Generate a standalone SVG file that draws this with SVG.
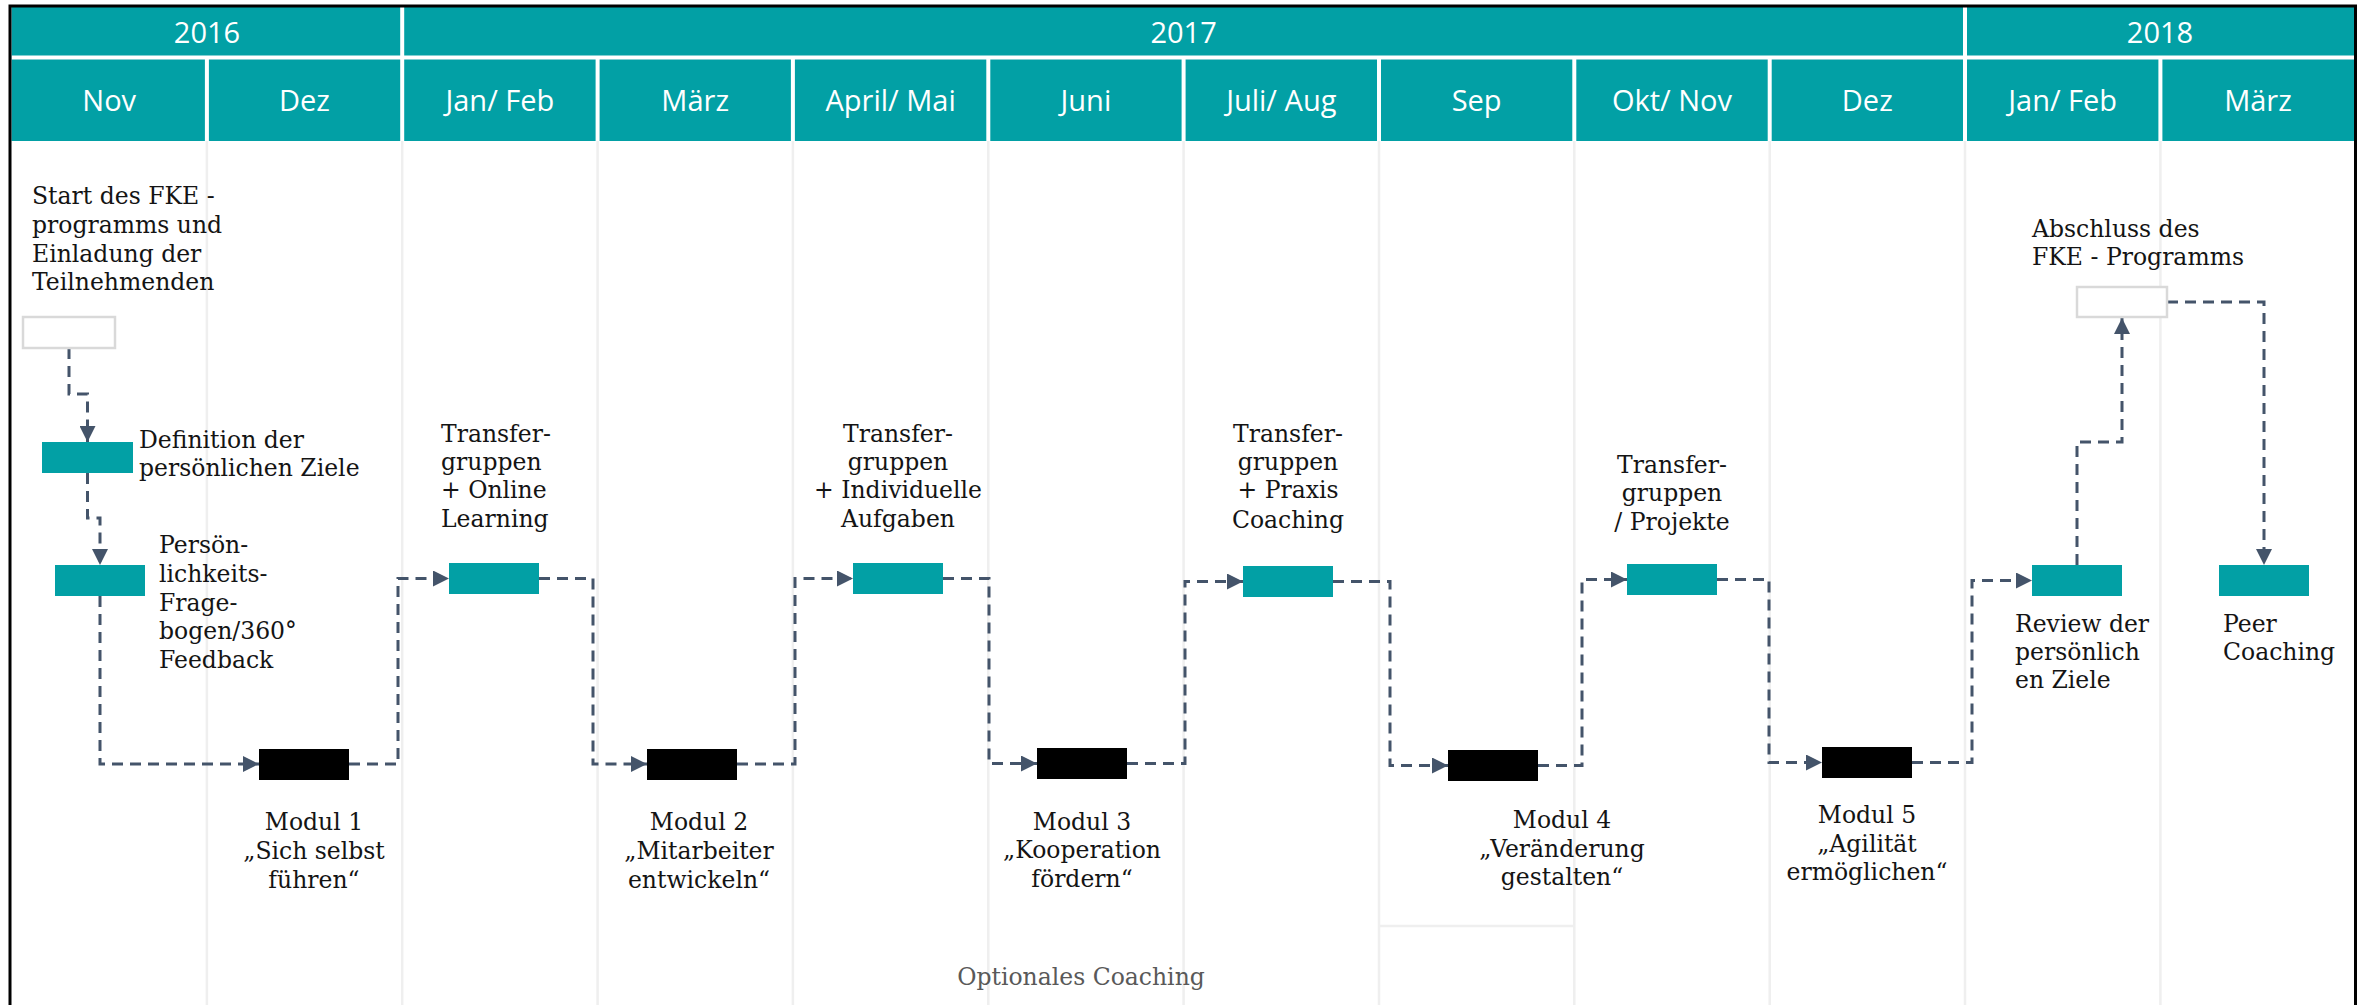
<svg xmlns="http://www.w3.org/2000/svg" width="2362" height="1005" viewBox="0 0 2362 1005">
<style>
.hd{font-family:"Open Sans","Liberation Sans",sans-serif;font-size:29px;fill:#fff;text-anchor:middle}
.lb{font-family:"DejaVu Serif","Liberation Serif",serif;font-size:23.5px;fill:#141414}
.mid{text-anchor:middle}
.teal{fill:#02a0a5}
.blk{fill:#000}
.wbox{fill:#fff;stroke:#d9d9d9;stroke-width:2.5}
.grid{stroke:#efefef;stroke-width:2.5;fill:none}
.hsep{stroke:#fff;stroke-width:4;fill:none}
.con{fill:none;stroke:#44546a;stroke-width:3;stroke-dasharray:11 7;marker-end:url(#ah)}
</style>
<defs>
<marker id="ah" markerUnits="userSpaceOnUse" markerWidth="16" markerHeight="16" refX="16" refY="8" orient="auto">
<path d="M0,0 L16,8 L0,16 z" fill="#44546a"/>
</marker>
</defs>
<rect width="2362" height="1005" fill="#fff"/>

<g id="grid">
<path class="grid" d="M206.9,141V1005M402.2,141V1005M597.6,141V1005M792.9,141V1005M988.3,141V1005M1183.6,141V1005M1379,141V1005M1574.3,141V1005M1769.7,141V1005M1965,141V1005M2160.4,141V1005M1379,926H1574.3"/>
</g>

<g id="header">
<rect x="11.5" y="7" width="2343.5" height="134" fill="#02a0a5"/>
<path class="hsep" d="M11.5,57.5H2355M402.2,7V141M1965,7V141M206.9,57.5V141M597.6,57.5V141M792.9,57.5V141M988.3,57.5V141M1183.6,57.5V141M1379,57.5V141M1574.3,57.5V141M1769.7,57.5V141M2160.4,57.5V141"/>
<text class="hd" x="207" y="43">2016</text>
<text class="hd" x="1183.6" y="43">2017</text>
<text class="hd" x="2160" y="43">2018</text>
<text class="hd" x="109.2" y="111">Nov</text>
<text class="hd" x="304.5" y="111">Dez</text>
<text class="hd" x="499.9" y="111">Jan/ Feb</text>
<text class="hd" x="695.2" y="111">März</text>
<text class="hd" x="890.6" y="111">April/ Mai</text>
<text class="hd" x="1085.9" y="111">Juni</text>
<text class="hd" x="1281.3" y="111">Juli/ Aug</text>
<text class="hd" x="1476.6" y="111">Sep</text>
<text class="hd" x="1672" y="111">Okt/ Nov</text>
<text class="hd" x="1867.3" y="111">Dez</text>
<text class="hd" x="2062.7" y="111">Jan/ Feb</text>
<text class="hd" x="2258" y="111">März</text>
</g>

<rect x="10" y="6" width="2345.5" height="1010" fill="none" stroke="#000" stroke-width="3"/>

<g id="connectors">
<path class="con" d="M69,348V394H87.5V442"/>
<path class="con" d="M87.5,473V518H100V565"/>
<path class="con" d="M100,596V764H259"/>
<path class="con" d="M349,764H398V578.5H449"/>
<path class="con" d="M539,578.5H593V764H647"/>
<path class="con" d="M737,764H795V578.5H853"/>
<path class="con" d="M943,578.5H989V763.5H1037"/>
<path class="con" d="M1127,763.5H1185V581.5H1243"/>
<path class="con" d="M1333,581.5H1390V765.5H1448"/>
<path class="con" d="M1538,765.5H1582V579.5H1627"/>
<path class="con" d="M1717,579.5H1769V762.5H1822"/>
<path class="con" d="M1912,762.5H1972V580.5H2032"/>
<path class="con" d="M2077,565V442H2122V318"/>
<path class="con" d="M2167,302H2264V565"/>
</g>

<g id="start">
<rect class="wbox" x="23" y="317" width="92" height="31"/>
<text class="lb" x="32"><tspan x="32" y="204">Start des FKE -</tspan><tspan x="32" y="233">programms und</tspan><tspan x="32" y="262">Einladung der</tspan><tspan x="32" y="290">Teilnehmenden</tspan></text>
</g>
<g id="definition">
<rect class="teal" x="42" y="442" width="91" height="31"/>
<text class="lb"><tspan x="139" y="448">Definition der</tspan><tspan x="139" y="476">persönlichen Ziele</tspan></text>
</g>
<g id="persoenlichkeit">
<rect class="teal" x="55" y="565" width="90" height="31"/>
<text class="lb"><tspan x="159" y="553">Persön-</tspan><tspan x="159" y="582">lichkeits-</tspan><tspan x="159" y="611">Frage-</tspan><tspan x="159" y="639">bogen/360°</tspan><tspan x="159" y="668">Feedback</tspan></text>
</g>
<g id="transfer1">
<rect class="teal" x="449" y="563" width="90" height="31"/>
<text class="lb"><tspan x="441" y="442">Transfer-</tspan><tspan x="441" y="470">gruppen</tspan><tspan x="441" y="498">+ Online</tspan><tspan x="441" y="527">Learning</tspan></text>
</g>
<g id="modul1">
<rect class="blk" x="259" y="749" width="90" height="31"/>
<text class="lb mid"><tspan x="314" y="830">Modul 1</tspan><tspan x="314" y="859">„Sich selbst</tspan><tspan x="314" y="888">führen“</tspan></text>
</g>
<g id="modul2">
<rect class="blk" x="647" y="749" width="90" height="31"/>
<text class="lb mid"><tspan x="699" y="830">Modul 2</tspan><tspan x="699" y="859">„Mitarbeiter</tspan><tspan x="699" y="888">entwickeln“</tspan></text>
</g>
<g id="transfer2">
<rect class="teal" x="853" y="563" width="90" height="31"/>
<text class="lb mid"><tspan x="898" y="442">Transfer-</tspan><tspan x="898" y="470">gruppen</tspan><tspan x="898" y="498">+ Individuelle</tspan><tspan x="898" y="527">Aufgaben</tspan></text>
</g>
<g id="modul3">
<rect class="blk" x="1037" y="748" width="90" height="31"/>
<text class="lb mid"><tspan x="1082" y="830">Modul 3</tspan><tspan x="1082" y="858">„Kooperation</tspan><tspan x="1082" y="887">fördern“</tspan></text>
</g>
<g id="transfer3">
<rect class="teal" x="1243" y="566" width="90" height="31"/>
<text class="lb mid"><tspan x="1288" y="442">Transfer-</tspan><tspan x="1288" y="470">gruppen</tspan><tspan x="1288" y="498">+ Praxis</tspan><tspan x="1288" y="528">Coaching</tspan></text>
</g>
<g id="modul4">
<rect class="blk" x="1448" y="750" width="90" height="31"/>
<text class="lb mid"><tspan x="1562" y="828">Modul 4</tspan><tspan x="1562" y="857">„Veränderung</tspan><tspan x="1562" y="885">gestalten“</tspan></text>
</g>
<g id="transfer4">
<rect class="teal" x="1627" y="564" width="90" height="31"/>
<text class="lb mid"><tspan x="1672" y="473">Transfer-</tspan><tspan x="1672" y="501">gruppen</tspan><tspan x="1672" y="530">/ Projekte</tspan></text>
</g>
<g id="modul5">
<rect class="blk" x="1822" y="747" width="90" height="31"/>
<text class="lb mid"><tspan x="1867" y="823">Modul 5</tspan><tspan x="1867" y="852">„Agilität</tspan><tspan x="1867" y="880">ermöglichen“</tspan></text>
</g>
<g id="review">
<rect class="teal" x="2032" y="565" width="90" height="31"/>
<text class="lb"><tspan x="2015" y="632">Review der</tspan><tspan x="2015" y="660">persönlich</tspan><tspan x="2015" y="688">en Ziele</tspan></text>
</g>
<g id="abschluss">
<rect class="wbox" x="2077" y="287" width="90" height="30"/>
<text class="lb"><tspan x="2032" y="237">Abschluss des</tspan><tspan x="2032" y="265">FKE - Programms</tspan></text>
</g>
<g id="peer">
<rect class="teal" x="2219" y="565" width="90" height="31"/>
<text class="lb"><tspan x="2223" y="632">Peer</tspan><tspan x="2223" y="660">Coaching</tspan></text>
</g>
<g id="optional">
<text class="lb mid" x="1081" y="985" style="fill:#595959">Optionales Coaching</text>
</g>
</svg>
